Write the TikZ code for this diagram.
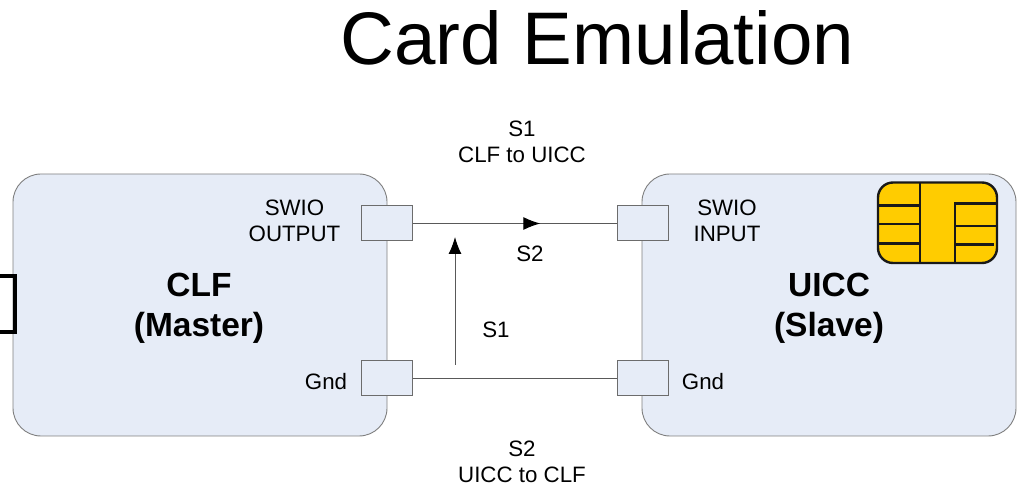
\documentclass[tikz,border=0pt]{standalone}
\usepackage{fontspec}
\setmainfont{Liberation Sans}
\usepackage{xcolor}
\usetikzlibrary{arrows.meta,decorations.markings}

\definecolor{cardfill}{HTML}{E6ECF7}
\definecolor{cardline}{HTML}{7F7F7F}
\definecolor{chipfill}{HTML}{FFCC00}

\begin{document}
\begin{tikzpicture}[
    x=1pt, y=-1pt,
    every node/.style = {inner sep=0pt, outer sep=0pt, align=center,
                          font=\fontsize{22.3}{26}\selectfont},
    card/.style       = {rectangle, rounded corners=28pt, draw=cardline, fill=cardfill, line width=0.9pt,
                          minimum width=374pt, minimum height=262pt},
    port/.style       = {rectangle, draw=cardline!85!black, fill=cardfill, line width=1pt,
                          minimum width=51pt, minimum height=35pt},
    wire/.style       = {draw=black!65, line width=1pt},
    arr/.style        = {wire, -{Latex[length=17pt, width=13pt, black]}},
    midarr/.style     = {wire, postaction={decorate}, decoration={markings,
                          mark=at position 0.625 with {\arrow[black]{Latex[length=17pt, width=13pt]}}}},
    head/.style       = {font=\fontsize{33.5}{40}\selectfont\bfseries},
    chipline/.style   = {draw=black!90, line width=2.4pt},
]
\useasboundingbox (0,0) rectangle (1021,486);

% Title
\node[font=\fontsize{74.5}{80}\selectfont] (title) at (597.5, 38) {Card Emulation};

% Cards
\node[card] (CLF)  at (200, 305) {};
\node[card] (UICC) at (829, 305) {};

% The stub at the left edge sits on top of the CLF card
\draw[line width=3.8pt, black] (0,276) -- (15,276) -- (15,332) -- (0,332);

% Ports
\node[port] (swioOut) at (387, 223.5) {};
\node[port] (gndCLF)  at (387, 378.5) {};
\node[port] (swioIn)  at (642.5, 223.5) {};
\node[port] (gndUICC) at (642.5, 378.5) {};

% Wires
\draw[midarr] (swioOut.east) -- (swioIn.west);
\draw[wire]   (gndCLF.east) -- (gndUICC.west);

\coordinate (upFrom) at (455, 365);
\coordinate (upTo)   at (455, 237);
\draw[arr] (upFrom) -- (upTo);

% Labels
\node (lblOut)  at (294.5, 221) {SWIO\\OUTPUT};
\node (lblIn)   at (727, 221)   {SWIO\\INPUT};
\node (lblGndL) at (326, 382)   {Gnd};
\node (lblGndR) at (703, 382)   {Gnd};
\node[head] (lblCLF)  at (199, 308) {CLF\\(Master)};
\node[head] (lblUICC) at (829, 308) {UICC\\(Slave)};
\node (lblTop) at (522, 142)    {S1\\CLF to UICC};
\node (lblBot) at (522, 461.5)  {S2\\UICC to CLF};
\node (lblS2)  at (530, 254)    {S2};
\node (lblS1)  at (496, 330)    {S1};

% SIM chip
\draw[chipline, fill=chipfill, rounded corners=15pt] (878,182.5) rectangle (997,263);
\draw[chipline] (920,182.5) -- (920,263);
\draw[chipline] (955,263) -- (955,203.5) -- (997,203.5);
\foreach \y in {205.5, 224, 243.5} {
    \draw[chipline] (878,\y) -- (920,\y);
}
\draw[chipline] (955,226) -- (996,226);
\draw[chipline] (955,244.5) -- (994,244.5);

\end{tikzpicture}
\end{document}
